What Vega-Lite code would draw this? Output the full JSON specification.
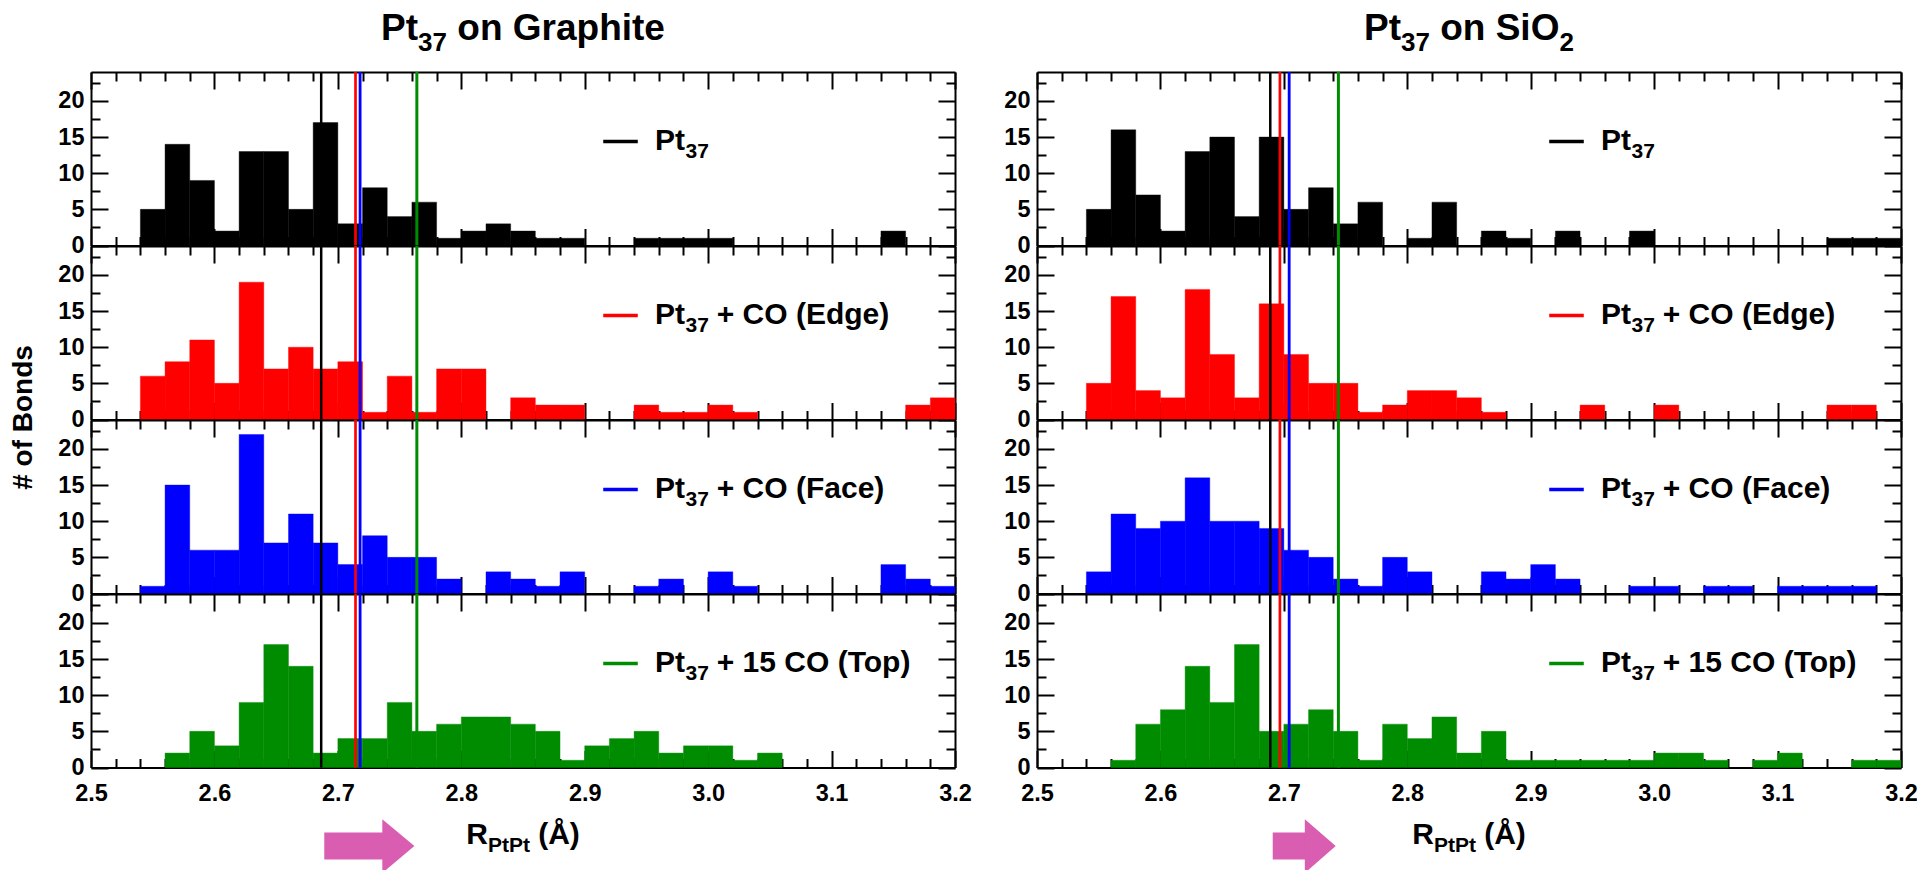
{
  "$schema": "https://vega.github.io/schema/vega-lite/v6.json",
  "background": "white",
  "padding": {"left": 9, "top": 10, "right": 5, "bottom": 0},
  "config": {
    "font": "Liberation Sans",
    "view": {"stroke": null},
    "axis": {
      "grid": false, "title": null, "zindex": 1,
      "domainColor": "#000000", "domainWidth": 2,
      "tickColor": "#000000", "tickWidth": 2,
      "labelColor": "#000000", "labelFont": "Liberation Sans", "labelFontWeight": "bold", "labelFontSize": 23.5,
      "labelFlush": false, "labelOverlap": false
    },
    "text": {"font": "Liberation Sans", "fontWeight": "bold", "color": "#000000"}
  },
  "datasets": {
    "hist": [
      {"support":"Graphite","system":"Pt37","lo":2.54,"hi":2.56,"count":5},
      {"support":"Graphite","system":"Pt37","lo":2.56,"hi":2.58,"count":14},
      {"support":"Graphite","system":"Pt37","lo":2.58,"hi":2.60,"count":9},
      {"support":"Graphite","system":"Pt37","lo":2.60,"hi":2.62,"count":2},
      {"support":"Graphite","system":"Pt37","lo":2.62,"hi":2.64,"count":13},
      {"support":"Graphite","system":"Pt37","lo":2.64,"hi":2.66,"count":13},
      {"support":"Graphite","system":"Pt37","lo":2.66,"hi":2.68,"count":5},
      {"support":"Graphite","system":"Pt37","lo":2.68,"hi":2.70,"count":17},
      {"support":"Graphite","system":"Pt37","lo":2.70,"hi":2.72,"count":3},
      {"support":"Graphite","system":"Pt37","lo":2.72,"hi":2.74,"count":8},
      {"support":"Graphite","system":"Pt37","lo":2.74,"hi":2.76,"count":4},
      {"support":"Graphite","system":"Pt37","lo":2.76,"hi":2.78,"count":6},
      {"support":"Graphite","system":"Pt37","lo":2.78,"hi":2.80,"count":1},
      {"support":"Graphite","system":"Pt37","lo":2.80,"hi":2.82,"count":2},
      {"support":"Graphite","system":"Pt37","lo":2.82,"hi":2.84,"count":3},
      {"support":"Graphite","system":"Pt37","lo":2.84,"hi":2.86,"count":2},
      {"support":"Graphite","system":"Pt37","lo":2.86,"hi":2.88,"count":1},
      {"support":"Graphite","system":"Pt37","lo":2.88,"hi":2.90,"count":1},
      {"support":"Graphite","system":"Pt37","lo":2.94,"hi":2.96,"count":1},
      {"support":"Graphite","system":"Pt37","lo":2.96,"hi":2.98,"count":1},
      {"support":"Graphite","system":"Pt37","lo":2.98,"hi":3.00,"count":1},
      {"support":"Graphite","system":"Pt37","lo":3.00,"hi":3.02,"count":1},
      {"support":"Graphite","system":"Pt37","lo":3.14,"hi":3.16,"count":2},

      {"support":"Graphite","system":"Edge","lo":2.54,"hi":2.56,"count":6},
      {"support":"Graphite","system":"Edge","lo":2.56,"hi":2.58,"count":8},
      {"support":"Graphite","system":"Edge","lo":2.58,"hi":2.60,"count":11},
      {"support":"Graphite","system":"Edge","lo":2.60,"hi":2.62,"count":5},
      {"support":"Graphite","system":"Edge","lo":2.62,"hi":2.64,"count":19},
      {"support":"Graphite","system":"Edge","lo":2.64,"hi":2.66,"count":7},
      {"support":"Graphite","system":"Edge","lo":2.66,"hi":2.68,"count":10},
      {"support":"Graphite","system":"Edge","lo":2.68,"hi":2.70,"count":7},
      {"support":"Graphite","system":"Edge","lo":2.70,"hi":2.72,"count":8},
      {"support":"Graphite","system":"Edge","lo":2.72,"hi":2.74,"count":1},
      {"support":"Graphite","system":"Edge","lo":2.74,"hi":2.76,"count":6},
      {"support":"Graphite","system":"Edge","lo":2.76,"hi":2.78,"count":1},
      {"support":"Graphite","system":"Edge","lo":2.78,"hi":2.80,"count":7},
      {"support":"Graphite","system":"Edge","lo":2.80,"hi":2.82,"count":7},
      {"support":"Graphite","system":"Edge","lo":2.84,"hi":2.86,"count":3},
      {"support":"Graphite","system":"Edge","lo":2.86,"hi":2.88,"count":2},
      {"support":"Graphite","system":"Edge","lo":2.88,"hi":2.90,"count":2},
      {"support":"Graphite","system":"Edge","lo":2.94,"hi":2.96,"count":2},
      {"support":"Graphite","system":"Edge","lo":2.96,"hi":2.98,"count":1},
      {"support":"Graphite","system":"Edge","lo":2.98,"hi":3.00,"count":1},
      {"support":"Graphite","system":"Edge","lo":3.00,"hi":3.02,"count":2},
      {"support":"Graphite","system":"Edge","lo":3.02,"hi":3.04,"count":1},
      {"support":"Graphite","system":"Edge","lo":3.16,"hi":3.18,"count":2},
      {"support":"Graphite","system":"Edge","lo":3.18,"hi":3.20,"count":3},

      {"support":"Graphite","system":"Face","lo":2.54,"hi":2.56,"count":1},
      {"support":"Graphite","system":"Face","lo":2.56,"hi":2.58,"count":15},
      {"support":"Graphite","system":"Face","lo":2.58,"hi":2.60,"count":6},
      {"support":"Graphite","system":"Face","lo":2.60,"hi":2.62,"count":6},
      {"support":"Graphite","system":"Face","lo":2.62,"hi":2.64,"count":22},
      {"support":"Graphite","system":"Face","lo":2.64,"hi":2.66,"count":7},
      {"support":"Graphite","system":"Face","lo":2.66,"hi":2.68,"count":11},
      {"support":"Graphite","system":"Face","lo":2.68,"hi":2.70,"count":7},
      {"support":"Graphite","system":"Face","lo":2.70,"hi":2.72,"count":4},
      {"support":"Graphite","system":"Face","lo":2.72,"hi":2.74,"count":8},
      {"support":"Graphite","system":"Face","lo":2.74,"hi":2.76,"count":5},
      {"support":"Graphite","system":"Face","lo":2.76,"hi":2.78,"count":5},
      {"support":"Graphite","system":"Face","lo":2.78,"hi":2.80,"count":2},
      {"support":"Graphite","system":"Face","lo":2.82,"hi":2.84,"count":3},
      {"support":"Graphite","system":"Face","lo":2.84,"hi":2.86,"count":2},
      {"support":"Graphite","system":"Face","lo":2.86,"hi":2.88,"count":1},
      {"support":"Graphite","system":"Face","lo":2.88,"hi":2.90,"count":3},
      {"support":"Graphite","system":"Face","lo":2.94,"hi":2.96,"count":1},
      {"support":"Graphite","system":"Face","lo":2.96,"hi":2.98,"count":2},
      {"support":"Graphite","system":"Face","lo":3.00,"hi":3.02,"count":3},
      {"support":"Graphite","system":"Face","lo":3.02,"hi":3.04,"count":1},
      {"support":"Graphite","system":"Face","lo":3.14,"hi":3.16,"count":4},
      {"support":"Graphite","system":"Face","lo":3.16,"hi":3.18,"count":2},
      {"support":"Graphite","system":"Face","lo":3.18,"hi":3.20,"count":1},

      {"support":"Graphite","system":"Top","lo":2.56,"hi":2.58,"count":2},
      {"support":"Graphite","system":"Top","lo":2.58,"hi":2.60,"count":5},
      {"support":"Graphite","system":"Top","lo":2.60,"hi":2.62,"count":3},
      {"support":"Graphite","system":"Top","lo":2.62,"hi":2.64,"count":9},
      {"support":"Graphite","system":"Top","lo":2.64,"hi":2.66,"count":17},
      {"support":"Graphite","system":"Top","lo":2.66,"hi":2.68,"count":14},
      {"support":"Graphite","system":"Top","lo":2.68,"hi":2.70,"count":2},
      {"support":"Graphite","system":"Top","lo":2.70,"hi":2.72,"count":4},
      {"support":"Graphite","system":"Top","lo":2.72,"hi":2.74,"count":4},
      {"support":"Graphite","system":"Top","lo":2.74,"hi":2.76,"count":9},
      {"support":"Graphite","system":"Top","lo":2.76,"hi":2.78,"count":5},
      {"support":"Graphite","system":"Top","lo":2.78,"hi":2.80,"count":6},
      {"support":"Graphite","system":"Top","lo":2.80,"hi":2.82,"count":7},
      {"support":"Graphite","system":"Top","lo":2.82,"hi":2.84,"count":7},
      {"support":"Graphite","system":"Top","lo":2.84,"hi":2.86,"count":6},
      {"support":"Graphite","system":"Top","lo":2.86,"hi":2.88,"count":5},
      {"support":"Graphite","system":"Top","lo":2.88,"hi":2.90,"count":1},
      {"support":"Graphite","system":"Top","lo":2.90,"hi":2.92,"count":3},
      {"support":"Graphite","system":"Top","lo":2.92,"hi":2.94,"count":4},
      {"support":"Graphite","system":"Top","lo":2.94,"hi":2.96,"count":5},
      {"support":"Graphite","system":"Top","lo":2.96,"hi":2.98,"count":2},
      {"support":"Graphite","system":"Top","lo":2.98,"hi":3.00,"count":3},
      {"support":"Graphite","system":"Top","lo":3.00,"hi":3.02,"count":3},
      {"support":"Graphite","system":"Top","lo":3.02,"hi":3.04,"count":1},
      {"support":"Graphite","system":"Top","lo":3.04,"hi":3.06,"count":2},

      {"support":"SiO2","system":"Pt37","lo":2.54,"hi":2.56,"count":5},
      {"support":"SiO2","system":"Pt37","lo":2.56,"hi":2.58,"count":16},
      {"support":"SiO2","system":"Pt37","lo":2.58,"hi":2.60,"count":7},
      {"support":"SiO2","system":"Pt37","lo":2.60,"hi":2.62,"count":2},
      {"support":"SiO2","system":"Pt37","lo":2.62,"hi":2.64,"count":13},
      {"support":"SiO2","system":"Pt37","lo":2.64,"hi":2.66,"count":15},
      {"support":"SiO2","system":"Pt37","lo":2.66,"hi":2.68,"count":4},
      {"support":"SiO2","system":"Pt37","lo":2.68,"hi":2.70,"count":15},
      {"support":"SiO2","system":"Pt37","lo":2.70,"hi":2.72,"count":5},
      {"support":"SiO2","system":"Pt37","lo":2.72,"hi":2.74,"count":8},
      {"support":"SiO2","system":"Pt37","lo":2.74,"hi":2.76,"count":3},
      {"support":"SiO2","system":"Pt37","lo":2.76,"hi":2.78,"count":6},
      {"support":"SiO2","system":"Pt37","lo":2.80,"hi":2.82,"count":1},
      {"support":"SiO2","system":"Pt37","lo":2.82,"hi":2.84,"count":6},
      {"support":"SiO2","system":"Pt37","lo":2.86,"hi":2.88,"count":2},
      {"support":"SiO2","system":"Pt37","lo":2.88,"hi":2.90,"count":1},
      {"support":"SiO2","system":"Pt37","lo":2.92,"hi":2.94,"count":2},
      {"support":"SiO2","system":"Pt37","lo":2.98,"hi":3.00,"count":2},
      {"support":"SiO2","system":"Pt37","lo":3.14,"hi":3.16,"count":1},
      {"support":"SiO2","system":"Pt37","lo":3.16,"hi":3.18,"count":1},
      {"support":"SiO2","system":"Pt37","lo":3.18,"hi":3.20,"count":1},

      {"support":"SiO2","system":"Edge","lo":2.54,"hi":2.56,"count":5},
      {"support":"SiO2","system":"Edge","lo":2.56,"hi":2.58,"count":17},
      {"support":"SiO2","system":"Edge","lo":2.58,"hi":2.60,"count":4},
      {"support":"SiO2","system":"Edge","lo":2.60,"hi":2.62,"count":3},
      {"support":"SiO2","system":"Edge","lo":2.62,"hi":2.64,"count":18},
      {"support":"SiO2","system":"Edge","lo":2.64,"hi":2.66,"count":9},
      {"support":"SiO2","system":"Edge","lo":2.66,"hi":2.68,"count":3},
      {"support":"SiO2","system":"Edge","lo":2.68,"hi":2.70,"count":16},
      {"support":"SiO2","system":"Edge","lo":2.70,"hi":2.72,"count":9},
      {"support":"SiO2","system":"Edge","lo":2.72,"hi":2.74,"count":5},
      {"support":"SiO2","system":"Edge","lo":2.74,"hi":2.76,"count":5},
      {"support":"SiO2","system":"Edge","lo":2.76,"hi":2.78,"count":1},
      {"support":"SiO2","system":"Edge","lo":2.78,"hi":2.80,"count":2},
      {"support":"SiO2","system":"Edge","lo":2.80,"hi":2.82,"count":4},
      {"support":"SiO2","system":"Edge","lo":2.82,"hi":2.84,"count":4},
      {"support":"SiO2","system":"Edge","lo":2.84,"hi":2.86,"count":3},
      {"support":"SiO2","system":"Edge","lo":2.86,"hi":2.88,"count":1},
      {"support":"SiO2","system":"Edge","lo":2.94,"hi":2.96,"count":2},
      {"support":"SiO2","system":"Edge","lo":3.00,"hi":3.02,"count":2},
      {"support":"SiO2","system":"Edge","lo":3.14,"hi":3.16,"count":2},
      {"support":"SiO2","system":"Edge","lo":3.16,"hi":3.18,"count":2},

      {"support":"SiO2","system":"Face","lo":2.54,"hi":2.56,"count":3},
      {"support":"SiO2","system":"Face","lo":2.56,"hi":2.58,"count":11},
      {"support":"SiO2","system":"Face","lo":2.58,"hi":2.60,"count":9},
      {"support":"SiO2","system":"Face","lo":2.60,"hi":2.62,"count":10},
      {"support":"SiO2","system":"Face","lo":2.62,"hi":2.64,"count":16},
      {"support":"SiO2","system":"Face","lo":2.64,"hi":2.66,"count":10},
      {"support":"SiO2","system":"Face","lo":2.66,"hi":2.68,"count":10},
      {"support":"SiO2","system":"Face","lo":2.68,"hi":2.70,"count":9},
      {"support":"SiO2","system":"Face","lo":2.70,"hi":2.72,"count":6},
      {"support":"SiO2","system":"Face","lo":2.72,"hi":2.74,"count":5},
      {"support":"SiO2","system":"Face","lo":2.74,"hi":2.76,"count":2},
      {"support":"SiO2","system":"Face","lo":2.76,"hi":2.78,"count":1},
      {"support":"SiO2","system":"Face","lo":2.78,"hi":2.80,"count":5},
      {"support":"SiO2","system":"Face","lo":2.80,"hi":2.82,"count":3},
      {"support":"SiO2","system":"Face","lo":2.86,"hi":2.88,"count":3},
      {"support":"SiO2","system":"Face","lo":2.88,"hi":2.90,"count":2},
      {"support":"SiO2","system":"Face","lo":2.90,"hi":2.92,"count":4},
      {"support":"SiO2","system":"Face","lo":2.92,"hi":2.94,"count":2},
      {"support":"SiO2","system":"Face","lo":2.98,"hi":3.00,"count":1},
      {"support":"SiO2","system":"Face","lo":3.00,"hi":3.02,"count":1},
      {"support":"SiO2","system":"Face","lo":3.04,"hi":3.06,"count":1},
      {"support":"SiO2","system":"Face","lo":3.06,"hi":3.08,"count":1},
      {"support":"SiO2","system":"Face","lo":3.10,"hi":3.12,"count":1},
      {"support":"SiO2","system":"Face","lo":3.12,"hi":3.14,"count":1},
      {"support":"SiO2","system":"Face","lo":3.14,"hi":3.16,"count":1},
      {"support":"SiO2","system":"Face","lo":3.16,"hi":3.18,"count":1},

      {"support":"SiO2","system":"Top","lo":2.56,"hi":2.58,"count":1},
      {"support":"SiO2","system":"Top","lo":2.58,"hi":2.60,"count":6},
      {"support":"SiO2","system":"Top","lo":2.60,"hi":2.62,"count":8},
      {"support":"SiO2","system":"Top","lo":2.62,"hi":2.64,"count":14},
      {"support":"SiO2","system":"Top","lo":2.64,"hi":2.66,"count":9},
      {"support":"SiO2","system":"Top","lo":2.66,"hi":2.68,"count":17},
      {"support":"SiO2","system":"Top","lo":2.68,"hi":2.70,"count":5},
      {"support":"SiO2","system":"Top","lo":2.70,"hi":2.72,"count":6},
      {"support":"SiO2","system":"Top","lo":2.72,"hi":2.74,"count":8},
      {"support":"SiO2","system":"Top","lo":2.74,"hi":2.76,"count":5},
      {"support":"SiO2","system":"Top","lo":2.76,"hi":2.78,"count":1},
      {"support":"SiO2","system":"Top","lo":2.78,"hi":2.80,"count":6},
      {"support":"SiO2","system":"Top","lo":2.80,"hi":2.82,"count":4},
      {"support":"SiO2","system":"Top","lo":2.82,"hi":2.84,"count":7},
      {"support":"SiO2","system":"Top","lo":2.84,"hi":2.86,"count":2},
      {"support":"SiO2","system":"Top","lo":2.86,"hi":2.88,"count":5},
      {"support":"SiO2","system":"Top","lo":2.88,"hi":2.90,"count":1},
      {"support":"SiO2","system":"Top","lo":2.90,"hi":2.92,"count":1},
      {"support":"SiO2","system":"Top","lo":2.92,"hi":2.94,"count":1},
      {"support":"SiO2","system":"Top","lo":2.94,"hi":2.96,"count":1},
      {"support":"SiO2","system":"Top","lo":2.96,"hi":2.98,"count":1},
      {"support":"SiO2","system":"Top","lo":2.98,"hi":3.00,"count":1},
      {"support":"SiO2","system":"Top","lo":3.00,"hi":3.02,"count":2},
      {"support":"SiO2","system":"Top","lo":3.02,"hi":3.04,"count":2},
      {"support":"SiO2","system":"Top","lo":3.04,"hi":3.06,"count":1},
      {"support":"SiO2","system":"Top","lo":3.08,"hi":3.10,"count":1},
      {"support":"SiO2","system":"Top","lo":3.10,"hi":3.12,"count":2},
      {"support":"SiO2","system":"Top","lo":3.16,"hi":3.18,"count":1},
      {"support":"SiO2","system":"Top","lo":3.18,"hi":3.20,"count":1}
    ],
    "means": [
      {"support":"Graphite","system":"Pt37","mean":2.6865},
      {"support":"Graphite","system":"Edge","mean":2.7143},
      {"support":"Graphite","system":"Face","mean":2.7180},
      {"support":"Graphite","system":"Top","mean":2.7640},
      {"support":"SiO2","system":"Pt37","mean":2.6890},
      {"support":"SiO2","system":"Edge","mean":2.6968},
      {"support":"SiO2","system":"Face","mean":2.7043},
      {"support":"SiO2","system":"Top","mean":2.7442}
    ],
    "series": [
      {"system":"Pt37","base":"Pt","sub":"37","rest":""},
      {"system":"Edge","base":"Pt","sub":"37","rest":"+ CO (Edge)"},
      {"system":"Face","base":"Pt","sub":"37","rest":"+ CO (Face)"},
      {"system":"Top","base":"Pt","sub":"37","rest":"+ 15 CO (Top)"}
    ],
    "supports": [
      {"support":"Graphite","base":"Pt","sub":"37","rest":"on Graphite","sub2":""},
      {"support":"SiO2","base":"Pt","sub":"37","rest":"on SiO","sub2":"2"}
    ],
    "shift": [
      {"support":"Graphite","part":"shaft","r":2.689,"lo":-0.5,"hi":0.5},
      {"support":"Graphite","part":"shaft","r":2.737,"lo":-0.5,"hi":0.5},
      {"support":"Graphite","part":"head","r":2.736,"lo":-1,"hi":1},
      {"support":"Graphite","part":"head","r":2.762,"lo":0,"hi":0},
      {"support":"SiO2","part":"shaft","r":2.691,"lo":-0.5,"hi":0.5},
      {"support":"SiO2","part":"shaft","r":2.718,"lo":-0.5,"hi":0.5},
      {"support":"SiO2","part":"head","r":2.717,"lo":-1,"hi":1},
      {"support":"SiO2","part":"head","r":2.742,"lo":0,"hi":0}
    ],
    "xtitle": [
      {"base":"R","sub":"PtPt","unit":"(Å)"}
    ]
  },
  "columns": 2,
  "spacing": {"row": 0, "column": 82},
  "bounds": "flush",
  "align": "each",
  "concat": [
    {
      "width": 864, "height": 173.5,
      "layer": [
        {"data": {"name": "hist"}, "transform": [{"filter": "datum.support === 'Graphite' && datum.system === 'Pt37'"}],
         "mark": {"type": "bar", "color": "#000000", "stroke": "#000000", "strokeWidth": 0.4},
         "encoding": {
           "x": {"field": "lo", "type": "quantitative", "scale": {"domain": [2.5, 3.2], "nice": false, "zero": false}, "axis": {"orient": "bottom", "ticks": false, "labels": false, "domain": true}},
           "x2": {"field": "hi"},
           "y": {"field": "count", "type": "quantitative", "scale": {"domain": [0, 24], "nice": false}, "axis": {"orient": "left", "values": [0,5,10,15,20], "ticks": false, "labelPadding": 7, "domain": true}},
           "y2": {"datum": 0}}},
        {"data": {"name": "means"}, "transform": [{"filter": "datum.support === 'Graphite'"}],
         "mark": "rule",
         "encoding": {
           "x": {"field": "mean", "type": "quantitative", "axis": {"orient": "bottom", "values": [2.5,2.6,2.7,2.8,2.9,3.0,3.1,3.2], "offset": -17, "tickSize": 17, "labels": false, "domain": false}},
           "color": {"field": "system", "type": "nominal", "scale": {"domain": ["Pt37","Edge","Face","Top"], "range": ["#000000","#ff0000","#0000ff","#008c00"]}, "legend": null},
           "strokeWidth": {"field": "system", "type": "ordinal", "scale": {"domain": ["Pt37","Edge","Face","Top"], "range": [2.5,3,3,2]}, "legend": null}}},
        {"data": {"name": "series"}, "transform": [{"filter": "datum.system === 'Pt37'"}],
         "mark": {"type": "rule", "strokeWidth": 3.5},
         "encoding": {
           "x": {"datum": 2.915, "axis": {"orient": "bottom", "values": [2.52,2.54,2.56,2.58,2.62,2.64,2.66,2.68,2.72,2.74,2.76,2.78,2.82,2.84,2.86,2.88,2.92,2.94,2.96,2.98,3.02,3.04,3.06,3.08,3.12,3.14,3.16,3.18], "offset": -9, "tickSize": 9, "labels": false, "domain": false}},
           "x2": {"datum": 2.943},
           "y": {"datum": 14.4, "axis": {"orient": "left", "values": [0,5,10,15,20], "offset": -17, "tickSize": 17, "labels": false, "domain": false}},
           "color": {"field": "system", "type": "nominal", "scale": {"domain": ["Pt37","Edge","Face","Top"], "range": ["#000000","#ff0000","#0000ff","#008c00"]}, "legend": null}}},
        {"data": {"name": "series"}, "transform": [{"filter": "datum.system === 'Pt37'"}],
         "mark": {"type": "text", "align": "left", "baseline": "alphabetic", "fontSize": 30, "dy": 9},
         "encoding": {
           "x": {"datum": 2.957, "axis": {"orient": "top", "values": [2.5,2.6,2.7,2.8,2.9,3.0,3.1,3.2], "offset": -17, "tickSize": 17, "labels": false, "domain": false}},
           "y": {"datum": 14.4, "axis": {"orient": "left", "values": [2.5,7.5,12.5,17.5,22.5], "offset": -9, "tickSize": 9, "labels": false, "domain": false}},
           "text": {"field": "base"}}},
        {"data": {"name": "series"}, "transform": [{"filter": "datum.system === 'Pt37'"}],
         "mark": {"type": "text", "align": "left", "baseline": "alphabetic", "fontSize": 21, "dx": 30.5, "dy": 17},
         "encoding": {
           "x": {"datum": 2.957, "axis": {"orient": "top", "values": [2.52,2.54,2.56,2.58,2.62,2.64,2.66,2.68,2.72,2.74,2.76,2.78,2.82,2.84,2.86,2.88,2.92,2.94,2.96,2.98,3.02,3.04,3.06,3.08,3.12,3.14,3.16,3.18], "offset": -9, "tickSize": 9, "labels": false, "domain": false}},
           "y": {"datum": 14.4, "axis": {"orient": "right", "values": [0,5,10,15,20], "offset": -17, "tickSize": 17, "labels": false, "domain": false}},
           "text": {"field": "sub"}}},
        {"data": {"name": "series"}, "transform": [{"filter": "datum.system === 'Pt37'"}],
         "mark": {"type": "text", "align": "left", "baseline": "alphabetic", "fontSize": 30, "dx": 61.7, "dy": 9},
         "encoding": {
           "x": {"datum": 2.957, "axis": {"orient": "top", "ticks": false, "labels": false, "domain": true}},
           "y": {"datum": 14.4, "axis": {"orient": "right", "values": [2.5,7.5,12.5,17.5,22.5], "offset": -9, "tickSize": 9, "labels": false, "domain": false}},
           "text": {"field": "rest"}}},
        {"data": {"name": "supports"}, "transform": [{"filter": "datum.support === 'Graphite'"}],
         "mark": {"type": "text", "align": "left", "baseline": "alphabetic", "fontSize": 37, "dx": -141.9, "dy": -31.7},
         "encoding": {"x": {"datum": 2.85, "axis": null}, "y": {"datum": 24, "axis": {"orient": "right", "ticks": false, "labels": false, "domain": true}}, "text": {"field": "base"}}},
        {"data": {"name": "supports"}, "transform": [{"filter": "datum.support === 'Graphite'"}],
         "mark": {"type": "text", "align": "left", "baseline": "alphabetic", "fontSize": 26, "dx": -104.9, "dy": -20.7},
         "encoding": {"x": {"datum": 2.85, "axis": null}, "y": {"datum": 24, "axis": null}, "text": {"field": "sub"}}},
        {"data": {"name": "supports"}, "transform": [{"filter": "datum.support === 'Graphite'"}],
         "mark": {"type": "text", "align": "left", "baseline": "alphabetic", "fontSize": 37, "dx": -65.7, "dy": -31.7},
         "encoding": {"x": {"datum": 2.85, "axis": null}, "y": {"datum": 24, "axis": null}, "text": {"field": "rest"}}}
      ],
      "resolve": {"axis": {"x": "independent", "y": "independent"}}
    },
    {
      "width": 864, "height": 173.5,
      "layer": [
        {"data": {"name": "hist"}, "transform": [{"filter": "datum.support === 'SiO2' && datum.system === 'Pt37'"}],
         "mark": {"type": "bar", "color": "#000000", "stroke": "#000000", "strokeWidth": 0.4},
         "encoding": {
           "x": {"field": "lo", "type": "quantitative", "scale": {"domain": [2.5, 3.2], "nice": false, "zero": false}, "axis": {"orient": "bottom", "ticks": false, "labels": false, "domain": true}},
           "x2": {"field": "hi"},
           "y": {"field": "count", "type": "quantitative", "scale": {"domain": [0, 24], "nice": false}, "axis": {"orient": "left", "values": [0,5,10,15,20], "ticks": false, "labelPadding": 7, "domain": true}},
           "y2": {"datum": 0}}},
        {"data": {"name": "means"}, "transform": [{"filter": "datum.support === 'SiO2'"}],
         "mark": "rule",
         "encoding": {
           "x": {"field": "mean", "type": "quantitative", "axis": {"orient": "bottom", "values": [2.5,2.6,2.7,2.8,2.9,3.0,3.1,3.2], "offset": -17, "tickSize": 17, "labels": false, "domain": false}},
           "color": {"field": "system", "type": "nominal", "scale": {"domain": ["Pt37","Edge","Face","Top"], "range": ["#000000","#ff0000","#0000ff","#008c00"]}, "legend": null},
           "strokeWidth": {"field": "system", "type": "ordinal", "scale": {"domain": ["Pt37","Edge","Face","Top"], "range": [2.5,3,3,2]}, "legend": null}}},
        {"data": {"name": "series"}, "transform": [{"filter": "datum.system === 'Pt37'"}],
         "mark": {"type": "rule", "strokeWidth": 3.5},
         "encoding": {
           "x": {"datum": 2.915, "axis": {"orient": "bottom", "values": [2.52,2.54,2.56,2.58,2.62,2.64,2.66,2.68,2.72,2.74,2.76,2.78,2.82,2.84,2.86,2.88,2.92,2.94,2.96,2.98,3.02,3.04,3.06,3.08,3.12,3.14,3.16,3.18], "offset": -9, "tickSize": 9, "labels": false, "domain": false}},
           "x2": {"datum": 2.943},
           "y": {"datum": 14.4, "axis": {"orient": "left", "values": [0,5,10,15,20], "offset": -17, "tickSize": 17, "labels": false, "domain": false}},
           "color": {"field": "system", "type": "nominal", "scale": {"domain": ["Pt37","Edge","Face","Top"], "range": ["#000000","#ff0000","#0000ff","#008c00"]}, "legend": null}}},
        {"data": {"name": "series"}, "transform": [{"filter": "datum.system === 'Pt37'"}],
         "mark": {"type": "text", "align": "left", "baseline": "alphabetic", "fontSize": 30, "dy": 9},
         "encoding": {
           "x": {"datum": 2.957, "axis": {"orient": "top", "values": [2.5,2.6,2.7,2.8,2.9,3.0,3.1,3.2], "offset": -17, "tickSize": 17, "labels": false, "domain": false}},
           "y": {"datum": 14.4, "axis": {"orient": "left", "values": [2.5,7.5,12.5,17.5,22.5], "offset": -9, "tickSize": 9, "labels": false, "domain": false}},
           "text": {"field": "base"}}},
        {"data": {"name": "series"}, "transform": [{"filter": "datum.system === 'Pt37'"}],
         "mark": {"type": "text", "align": "left", "baseline": "alphabetic", "fontSize": 21, "dx": 30.5, "dy": 17},
         "encoding": {
           "x": {"datum": 2.957, "axis": {"orient": "top", "values": [2.52,2.54,2.56,2.58,2.62,2.64,2.66,2.68,2.72,2.74,2.76,2.78,2.82,2.84,2.86,2.88,2.92,2.94,2.96,2.98,3.02,3.04,3.06,3.08,3.12,3.14,3.16,3.18], "offset": -9, "tickSize": 9, "labels": false, "domain": false}},
           "y": {"datum": 14.4, "axis": {"orient": "right", "values": [0,5,10,15,20], "offset": -17, "tickSize": 17, "labels": false, "domain": false}},
           "text": {"field": "sub"}}},
        {"data": {"name": "series"}, "transform": [{"filter": "datum.system === 'Pt37'"}],
         "mark": {"type": "text", "align": "left", "baseline": "alphabetic", "fontSize": 30, "dx": 61.7, "dy": 9},
         "encoding": {
           "x": {"datum": 2.957, "axis": {"orient": "top", "ticks": false, "labels": false, "domain": true}},
           "y": {"datum": 14.4, "axis": {"orient": "right", "values": [2.5,7.5,12.5,17.5,22.5], "offset": -9, "tickSize": 9, "labels": false, "domain": false}},
           "text": {"field": "rest"}}},
        {"data": {"name": "supports"}, "transform": [{"filter": "datum.support === 'SiO2'"}],
         "mark": {"type": "text", "align": "left", "baseline": "alphabetic", "fontSize": 37, "dx": -105, "dy": -31.7},
         "encoding": {"x": {"datum": 2.85, "axis": null}, "y": {"datum": 24, "axis": {"orient": "right", "ticks": false, "labels": false, "domain": true}}, "text": {"field": "base"}}},
        {"data": {"name": "supports"}, "transform": [{"filter": "datum.support === 'SiO2'"}],
         "mark": {"type": "text", "align": "left", "baseline": "alphabetic", "fontSize": 26, "dx": -68, "dy": -20.7},
         "encoding": {"x": {"datum": 2.85, "axis": null}, "y": {"datum": 24, "axis": null}, "text": {"field": "sub"}}},
        {"data": {"name": "supports"}, "transform": [{"filter": "datum.support === 'SiO2'"}],
         "mark": {"type": "text", "align": "left", "baseline": "alphabetic", "fontSize": 37, "dx": -28.8, "dy": -31.7},
         "encoding": {"x": {"datum": 2.85, "axis": null}, "y": {"datum": 24, "axis": null}, "text": {"field": "rest"}}},
        {"data": {"name": "supports"}, "transform": [{"filter": "datum.support === 'SiO2'"}],
         "mark": {"type": "text", "align": "left", "baseline": "alphabetic", "fontSize": 26, "dx": 90.5, "dy": -20.7},
         "encoding": {"x": {"datum": 2.85, "axis": null}, "y": {"datum": 24, "axis": null}, "text": {"field": "sub2"}}}
      ],
      "resolve": {"axis": {"x": "independent", "y": "independent"}}
    },
    {
      "width": 864, "height": 173.5,
      "layer": [
        {"data": {"name": "hist"}, "transform": [{"filter": "datum.support === 'Graphite' && datum.system === 'Edge'"}],
         "mark": {"type": "bar", "color": "#ff0000", "stroke": "#ff0000", "strokeWidth": 0.4},
         "encoding": {
           "x": {"field": "lo", "type": "quantitative", "scale": {"domain": [2.5, 3.2], "nice": false, "zero": false}, "axis": {"orient": "bottom", "ticks": false, "labels": false, "domain": true}},
           "x2": {"field": "hi"},
           "y": {"field": "count", "type": "quantitative", "scale": {"domain": [0, 24], "nice": false}, "axis": {"orient": "left", "values": [0,5,10,15,20], "ticks": false, "labelPadding": 7, "domain": true}},
           "y2": {"datum": 0}}},
        {"data": {"name": "means"}, "transform": [{"filter": "datum.support === 'Graphite'"}],
         "mark": "rule",
         "encoding": {
           "x": {"field": "mean", "type": "quantitative", "axis": {"orient": "bottom", "values": [2.5,2.6,2.7,2.8,2.9,3.0,3.1,3.2], "offset": -17, "tickSize": 17, "labels": false, "domain": false}},
           "color": {"field": "system", "type": "nominal", "scale": {"domain": ["Pt37","Edge","Face","Top"], "range": ["#000000","#ff0000","#0000ff","#008c00"]}, "legend": null},
           "strokeWidth": {"field": "system", "type": "ordinal", "scale": {"domain": ["Pt37","Edge","Face","Top"], "range": [2.5,3,3,2]}, "legend": null}}},
        {"data": {"name": "series"}, "transform": [{"filter": "datum.system === 'Edge'"}],
         "mark": {"type": "rule", "strokeWidth": 3.5},
         "encoding": {
           "x": {"datum": 2.915, "axis": {"orient": "bottom", "values": [2.52,2.54,2.56,2.58,2.62,2.64,2.66,2.68,2.72,2.74,2.76,2.78,2.82,2.84,2.86,2.88,2.92,2.94,2.96,2.98,3.02,3.04,3.06,3.08,3.12,3.14,3.16,3.18], "offset": -9, "tickSize": 9, "labels": false, "domain": false}},
           "x2": {"datum": 2.943},
           "y": {"datum": 14.4, "axis": {"orient": "left", "values": [0,5,10,15,20], "offset": -17, "tickSize": 17, "labels": false, "domain": false}},
           "color": {"field": "system", "type": "nominal", "scale": {"domain": ["Pt37","Edge","Face","Top"], "range": ["#000000","#ff0000","#0000ff","#008c00"]}, "legend": null}}},
        {"data": {"name": "series"}, "transform": [{"filter": "datum.system === 'Edge'"}],
         "mark": {"type": "text", "align": "left", "baseline": "alphabetic", "fontSize": 30, "dy": 9},
         "encoding": {
           "x": {"datum": 2.957, "axis": {"orient": "top", "values": [2.5,2.6,2.7,2.8,2.9,3.0,3.1,3.2], "offset": -17, "tickSize": 17, "labels": false, "domain": false}},
           "y": {"datum": 14.4, "axis": {"orient": "left", "values": [2.5,7.5,12.5,17.5,22.5], "offset": -9, "tickSize": 9, "labels": false, "domain": false}},
           "text": {"field": "base"}}},
        {"data": {"name": "series"}, "transform": [{"filter": "datum.system === 'Edge'"}],
         "mark": {"type": "text", "align": "left", "baseline": "alphabetic", "fontSize": 21, "dx": 30.5, "dy": 17},
         "encoding": {
           "x": {"datum": 2.957, "axis": {"orient": "top", "values": [2.52,2.54,2.56,2.58,2.62,2.64,2.66,2.68,2.72,2.74,2.76,2.78,2.82,2.84,2.86,2.88,2.92,2.94,2.96,2.98,3.02,3.04,3.06,3.08,3.12,3.14,3.16,3.18], "offset": -9, "tickSize": 9, "labels": false, "domain": false}},
           "y": {"datum": 14.4, "axis": {"orient": "right", "values": [0,5,10,15,20], "offset": -17, "tickSize": 17, "labels": false, "domain": false}},
           "text": {"field": "sub"}}},
        {"data": {"name": "series"}, "transform": [{"filter": "datum.system === 'Edge'"}],
         "mark": {"type": "text", "align": "left", "baseline": "alphabetic", "fontSize": 30, "dx": 61.7, "dy": 9},
         "encoding": {
           "x": {"datum": 2.957, "axis": {"orient": "top", "ticks": false, "labels": false, "domain": true}},
           "y": {"datum": 14.4, "axis": {"orient": "right", "values": [2.5,7.5,12.5,17.5,22.5], "offset": -9, "tickSize": 9, "labels": false, "domain": false}},
           "text": {"field": "rest"}}},
        {"data": {"values": [{"label": "# of Bonds"}]},
         "mark": {"type": "text", "angle": 270, "align": "center", "baseline": "middle", "fontSize": 28, "dx": 2, "dy": -67},
         "encoding": {"x": {"datum": 2.5, "axis": null}, "y": {"datum": 0, "axis": {"orient": "right", "ticks": false, "labels": false, "domain": true}}, "text": {"field": "label"}}}
      ],
      "resolve": {"axis": {"x": "independent", "y": "independent"}}
    },
    {
      "width": 864, "height": 173.5,
      "layer": [
        {"data": {"name": "hist"}, "transform": [{"filter": "datum.support === 'SiO2' && datum.system === 'Edge'"}],
         "mark": {"type": "bar", "color": "#ff0000", "stroke": "#ff0000", "strokeWidth": 0.4},
         "encoding": {
           "x": {"field": "lo", "type": "quantitative", "scale": {"domain": [2.5, 3.2], "nice": false, "zero": false}, "axis": {"orient": "bottom", "ticks": false, "labels": false, "domain": true}},
           "x2": {"field": "hi"},
           "y": {"field": "count", "type": "quantitative", "scale": {"domain": [0, 24], "nice": false}, "axis": {"orient": "left", "values": [0,5,10,15,20], "ticks": false, "labelPadding": 7, "domain": true}},
           "y2": {"datum": 0}}},
        {"data": {"name": "means"}, "transform": [{"filter": "datum.support === 'SiO2'"}],
         "mark": "rule",
         "encoding": {
           "x": {"field": "mean", "type": "quantitative", "axis": {"orient": "bottom", "values": [2.5,2.6,2.7,2.8,2.9,3.0,3.1,3.2], "offset": -17, "tickSize": 17, "labels": false, "domain": false}},
           "color": {"field": "system", "type": "nominal", "scale": {"domain": ["Pt37","Edge","Face","Top"], "range": ["#000000","#ff0000","#0000ff","#008c00"]}, "legend": null},
           "strokeWidth": {"field": "system", "type": "ordinal", "scale": {"domain": ["Pt37","Edge","Face","Top"], "range": [2.5,3,3,2]}, "legend": null}}},
        {"data": {"name": "series"}, "transform": [{"filter": "datum.system === 'Edge'"}],
         "mark": {"type": "rule", "strokeWidth": 3.5},
         "encoding": {
           "x": {"datum": 2.915, "axis": {"orient": "bottom", "values": [2.52,2.54,2.56,2.58,2.62,2.64,2.66,2.68,2.72,2.74,2.76,2.78,2.82,2.84,2.86,2.88,2.92,2.94,2.96,2.98,3.02,3.04,3.06,3.08,3.12,3.14,3.16,3.18], "offset": -9, "tickSize": 9, "labels": false, "domain": false}},
           "x2": {"datum": 2.943},
           "y": {"datum": 14.4, "axis": {"orient": "left", "values": [0,5,10,15,20], "offset": -17, "tickSize": 17, "labels": false, "domain": false}},
           "color": {"field": "system", "type": "nominal", "scale": {"domain": ["Pt37","Edge","Face","Top"], "range": ["#000000","#ff0000","#0000ff","#008c00"]}, "legend": null}}},
        {"data": {"name": "series"}, "transform": [{"filter": "datum.system === 'Edge'"}],
         "mark": {"type": "text", "align": "left", "baseline": "alphabetic", "fontSize": 30, "dy": 9},
         "encoding": {
           "x": {"datum": 2.957, "axis": {"orient": "top", "values": [2.5,2.6,2.7,2.8,2.9,3.0,3.1,3.2], "offset": -17, "tickSize": 17, "labels": false, "domain": false}},
           "y": {"datum": 14.4, "axis": {"orient": "left", "values": [2.5,7.5,12.5,17.5,22.5], "offset": -9, "tickSize": 9, "labels": false, "domain": false}},
           "text": {"field": "base"}}},
        {"data": {"name": "series"}, "transform": [{"filter": "datum.system === 'Edge'"}],
         "mark": {"type": "text", "align": "left", "baseline": "alphabetic", "fontSize": 21, "dx": 30.5, "dy": 17},
         "encoding": {
           "x": {"datum": 2.957, "axis": {"orient": "top", "values": [2.52,2.54,2.56,2.58,2.62,2.64,2.66,2.68,2.72,2.74,2.76,2.78,2.82,2.84,2.86,2.88,2.92,2.94,2.96,2.98,3.02,3.04,3.06,3.08,3.12,3.14,3.16,3.18], "offset": -9, "tickSize": 9, "labels": false, "domain": false}},
           "y": {"datum": 14.4, "axis": {"orient": "right", "values": [0,5,10,15,20], "offset": -17, "tickSize": 17, "labels": false, "domain": false}},
           "text": {"field": "sub"}}},
        {"data": {"name": "series"}, "transform": [{"filter": "datum.system === 'Edge'"}],
         "mark": {"type": "text", "align": "left", "baseline": "alphabetic", "fontSize": 30, "dx": 61.7, "dy": 9},
         "encoding": {
           "x": {"datum": 2.957, "axis": {"orient": "top", "ticks": false, "labels": false, "domain": true}},
           "y": {"datum": 14.4, "axis": {"orient": "right", "values": [2.5,7.5,12.5,17.5,22.5], "offset": -9, "tickSize": 9, "labels": false, "domain": false}},
           "text": {"field": "rest"}}},
        {"data": {"name": "series"}, "transform": [{"filter": "datum.system === 'Edge'"}],
         "mark": {"type": "text", "opacity": 0},
         "encoding": {
           "x": {"datum": 2.957, "axis": null},
           "y": {"datum": 14.4, "axis": {"orient": "right", "ticks": false, "labels": false, "domain": true}},
           "text": {"field": "rest"}}}
      ],
      "resolve": {"axis": {"x": "independent", "y": "independent"}}
    },
    {
      "width": 864, "height": 173.5,
      "layer": [
        {"data": {"name": "hist"}, "transform": [{"filter": "datum.support === 'Graphite' && datum.system === 'Face'"}],
         "mark": {"type": "bar", "color": "#0000ff", "stroke": "#0000ff", "strokeWidth": 0.4},
         "encoding": {
           "x": {"field": "lo", "type": "quantitative", "scale": {"domain": [2.5, 3.2], "nice": false, "zero": false}, "axis": {"orient": "bottom", "ticks": false, "labels": false, "domain": true}},
           "x2": {"field": "hi"},
           "y": {"field": "count", "type": "quantitative", "scale": {"domain": [0, 24], "nice": false}, "axis": {"orient": "left", "values": [0,5,10,15,20], "ticks": false, "labelPadding": 7, "domain": true}},
           "y2": {"datum": 0}}},
        {"data": {"name": "means"}, "transform": [{"filter": "datum.support === 'Graphite'"}],
         "mark": "rule",
         "encoding": {
           "x": {"field": "mean", "type": "quantitative", "axis": {"orient": "bottom", "values": [2.5,2.6,2.7,2.8,2.9,3.0,3.1,3.2], "offset": -17, "tickSize": 17, "labels": false, "domain": false}},
           "color": {"field": "system", "type": "nominal", "scale": {"domain": ["Pt37","Edge","Face","Top"], "range": ["#000000","#ff0000","#0000ff","#008c00"]}, "legend": null},
           "strokeWidth": {"field": "system", "type": "ordinal", "scale": {"domain": ["Pt37","Edge","Face","Top"], "range": [2.5,3,3,2]}, "legend": null}}},
        {"data": {"name": "series"}, "transform": [{"filter": "datum.system === 'Face'"}],
         "mark": {"type": "rule", "strokeWidth": 3.5},
         "encoding": {
           "x": {"datum": 2.915, "axis": {"orient": "bottom", "values": [2.52,2.54,2.56,2.58,2.62,2.64,2.66,2.68,2.72,2.74,2.76,2.78,2.82,2.84,2.86,2.88,2.92,2.94,2.96,2.98,3.02,3.04,3.06,3.08,3.12,3.14,3.16,3.18], "offset": -9, "tickSize": 9, "labels": false, "domain": false}},
           "x2": {"datum": 2.943},
           "y": {"datum": 14.4, "axis": {"orient": "left", "values": [0,5,10,15,20], "offset": -17, "tickSize": 17, "labels": false, "domain": false}},
           "color": {"field": "system", "type": "nominal", "scale": {"domain": ["Pt37","Edge","Face","Top"], "range": ["#000000","#ff0000","#0000ff","#008c00"]}, "legend": null}}},
        {"data": {"name": "series"}, "transform": [{"filter": "datum.system === 'Face'"}],
         "mark": {"type": "text", "align": "left", "baseline": "alphabetic", "fontSize": 30, "dy": 9},
         "encoding": {
           "x": {"datum": 2.957, "axis": {"orient": "top", "values": [2.5,2.6,2.7,2.8,2.9,3.0,3.1,3.2], "offset": -17, "tickSize": 17, "labels": false, "domain": false}},
           "y": {"datum": 14.4, "axis": {"orient": "left", "values": [2.5,7.5,12.5,17.5,22.5], "offset": -9, "tickSize": 9, "labels": false, "domain": false}},
           "text": {"field": "base"}}},
        {"data": {"name": "series"}, "transform": [{"filter": "datum.system === 'Face'"}],
         "mark": {"type": "text", "align": "left", "baseline": "alphabetic", "fontSize": 21, "dx": 30.5, "dy": 17},
         "encoding": {
           "x": {"datum": 2.957, "axis": {"orient": "top", "values": [2.52,2.54,2.56,2.58,2.62,2.64,2.66,2.68,2.72,2.74,2.76,2.78,2.82,2.84,2.86,2.88,2.92,2.94,2.96,2.98,3.02,3.04,3.06,3.08,3.12,3.14,3.16,3.18], "offset": -9, "tickSize": 9, "labels": false, "domain": false}},
           "y": {"datum": 14.4, "axis": {"orient": "right", "values": [0,5,10,15,20], "offset": -17, "tickSize": 17, "labels": false, "domain": false}},
           "text": {"field": "sub"}}},
        {"data": {"name": "series"}, "transform": [{"filter": "datum.system === 'Face'"}],
         "mark": {"type": "text", "align": "left", "baseline": "alphabetic", "fontSize": 30, "dx": 61.7, "dy": 9},
         "encoding": {
           "x": {"datum": 2.957, "axis": {"orient": "top", "ticks": false, "labels": false, "domain": true}},
           "y": {"datum": 14.4, "axis": {"orient": "right", "values": [2.5,7.5,12.5,17.5,22.5], "offset": -9, "tickSize": 9, "labels": false, "domain": false}},
           "text": {"field": "rest"}}},
        {"data": {"name": "series"}, "transform": [{"filter": "datum.system === 'Face'"}],
         "mark": {"type": "text", "opacity": 0},
         "encoding": {
           "x": {"datum": 2.957, "axis": null},
           "y": {"datum": 14.4, "axis": {"orient": "right", "ticks": false, "labels": false, "domain": true}},
           "text": {"field": "rest"}}}
      ],
      "resolve": {"axis": {"x": "independent", "y": "independent"}}
    },
    {
      "width": 864, "height": 173.5,
      "layer": [
        {"data": {"name": "hist"}, "transform": [{"filter": "datum.support === 'SiO2' && datum.system === 'Face'"}],
         "mark": {"type": "bar", "color": "#0000ff", "stroke": "#0000ff", "strokeWidth": 0.4},
         "encoding": {
           "x": {"field": "lo", "type": "quantitative", "scale": {"domain": [2.5, 3.2], "nice": false, "zero": false}, "axis": {"orient": "bottom", "ticks": false, "labels": false, "domain": true}},
           "x2": {"field": "hi"},
           "y": {"field": "count", "type": "quantitative", "scale": {"domain": [0, 24], "nice": false}, "axis": {"orient": "left", "values": [0,5,10,15,20], "ticks": false, "labelPadding": 7, "domain": true}},
           "y2": {"datum": 0}}},
        {"data": {"name": "means"}, "transform": [{"filter": "datum.support === 'SiO2'"}],
         "mark": "rule",
         "encoding": {
           "x": {"field": "mean", "type": "quantitative", "axis": {"orient": "bottom", "values": [2.5,2.6,2.7,2.8,2.9,3.0,3.1,3.2], "offset": -17, "tickSize": 17, "labels": false, "domain": false}},
           "color": {"field": "system", "type": "nominal", "scale": {"domain": ["Pt37","Edge","Face","Top"], "range": ["#000000","#ff0000","#0000ff","#008c00"]}, "legend": null},
           "strokeWidth": {"field": "system", "type": "ordinal", "scale": {"domain": ["Pt37","Edge","Face","Top"], "range": [2.5,3,3,2]}, "legend": null}}},
        {"data": {"name": "series"}, "transform": [{"filter": "datum.system === 'Face'"}],
         "mark": {"type": "rule", "strokeWidth": 3.5},
         "encoding": {
           "x": {"datum": 2.915, "axis": {"orient": "bottom", "values": [2.52,2.54,2.56,2.58,2.62,2.64,2.66,2.68,2.72,2.74,2.76,2.78,2.82,2.84,2.86,2.88,2.92,2.94,2.96,2.98,3.02,3.04,3.06,3.08,3.12,3.14,3.16,3.18], "offset": -9, "tickSize": 9, "labels": false, "domain": false}},
           "x2": {"datum": 2.943},
           "y": {"datum": 14.4, "axis": {"orient": "left", "values": [0,5,10,15,20], "offset": -17, "tickSize": 17, "labels": false, "domain": false}},
           "color": {"field": "system", "type": "nominal", "scale": {"domain": ["Pt37","Edge","Face","Top"], "range": ["#000000","#ff0000","#0000ff","#008c00"]}, "legend": null}}},
        {"data": {"name": "series"}, "transform": [{"filter": "datum.system === 'Face'"}],
         "mark": {"type": "text", "align": "left", "baseline": "alphabetic", "fontSize": 30, "dy": 9},
         "encoding": {
           "x": {"datum": 2.957, "axis": {"orient": "top", "values": [2.5,2.6,2.7,2.8,2.9,3.0,3.1,3.2], "offset": -17, "tickSize": 17, "labels": false, "domain": false}},
           "y": {"datum": 14.4, "axis": {"orient": "left", "values": [2.5,7.5,12.5,17.5,22.5], "offset": -9, "tickSize": 9, "labels": false, "domain": false}},
           "text": {"field": "base"}}},
        {"data": {"name": "series"}, "transform": [{"filter": "datum.system === 'Face'"}],
         "mark": {"type": "text", "align": "left", "baseline": "alphabetic", "fontSize": 21, "dx": 30.5, "dy": 17},
         "encoding": {
           "x": {"datum": 2.957, "axis": {"orient": "top", "values": [2.52,2.54,2.56,2.58,2.62,2.64,2.66,2.68,2.72,2.74,2.76,2.78,2.82,2.84,2.86,2.88,2.92,2.94,2.96,2.98,3.02,3.04,3.06,3.08,3.12,3.14,3.16,3.18], "offset": -9, "tickSize": 9, "labels": false, "domain": false}},
           "y": {"datum": 14.4, "axis": {"orient": "right", "values": [0,5,10,15,20], "offset": -17, "tickSize": 17, "labels": false, "domain": false}},
           "text": {"field": "sub"}}},
        {"data": {"name": "series"}, "transform": [{"filter": "datum.system === 'Face'"}],
         "mark": {"type": "text", "align": "left", "baseline": "alphabetic", "fontSize": 30, "dx": 61.7, "dy": 9},
         "encoding": {
           "x": {"datum": 2.957, "axis": {"orient": "top", "ticks": false, "labels": false, "domain": true}},
           "y": {"datum": 14.4, "axis": {"orient": "right", "values": [2.5,7.5,12.5,17.5,22.5], "offset": -9, "tickSize": 9, "labels": false, "domain": false}},
           "text": {"field": "rest"}}},
        {"data": {"name": "series"}, "transform": [{"filter": "datum.system === 'Face'"}],
         "mark": {"type": "text", "opacity": 0},
         "encoding": {
           "x": {"datum": 2.957, "axis": null},
           "y": {"datum": 14.4, "axis": {"orient": "right", "ticks": false, "labels": false, "domain": true}},
           "text": {"field": "rest"}}}
      ],
      "resolve": {"axis": {"x": "independent", "y": "independent"}}
    },
    {
      "width": 864, "height": 173.5,
      "layer": [
        {"data": {"name": "hist"}, "transform": [{"filter": "datum.support === 'Graphite' && datum.system === 'Top'"}],
         "mark": {"type": "bar", "color": "#008c00", "stroke": "#008c00", "strokeWidth": 0.4},
         "encoding": {
           "x": {"field": "lo", "type": "quantitative", "scale": {"domain": [2.5, 3.2], "nice": false, "zero": false}, "axis": {"orient": "bottom", "values": [2.5,2.6,2.7,2.8,2.9,3.0,3.1,3.2], "format": ".1f", "ticks": false, "labels": true, "labelPadding": 14, "domain": true}},
           "x2": {"field": "hi"},
           "y": {"field": "count", "type": "quantitative", "scale": {"domain": [0, 24], "nice": false}, "axis": {"orient": "left", "values": [0,5,10,15,20], "ticks": false, "labelPadding": 7, "domain": true}},
           "y2": {"datum": 0}}},
        {"data": {"name": "means"}, "transform": [{"filter": "datum.support === 'Graphite'"}],
         "mark": "rule",
         "encoding": {
           "x": {"field": "mean", "type": "quantitative", "axis": {"orient": "bottom", "values": [2.5,2.6,2.7,2.8,2.9,3.0,3.1,3.2], "offset": -17, "tickSize": 17, "labels": false, "domain": false}},
           "color": {"field": "system", "type": "nominal", "scale": {"domain": ["Pt37","Edge","Face","Top"], "range": ["#000000","#ff0000","#0000ff","#008c00"]}, "legend": null},
           "strokeWidth": {"field": "system", "type": "ordinal", "scale": {"domain": ["Pt37","Edge","Face","Top"], "range": [2.5,3,3,2]}, "legend": null}}},
        {"data": {"name": "series"}, "transform": [{"filter": "datum.system === 'Top'"}],
         "mark": {"type": "rule", "strokeWidth": 3.5},
         "encoding": {
           "x": {"datum": 2.915, "axis": {"orient": "bottom", "values": [2.52,2.54,2.56,2.58,2.62,2.64,2.66,2.68,2.72,2.74,2.76,2.78,2.82,2.84,2.86,2.88,2.92,2.94,2.96,2.98,3.02,3.04,3.06,3.08,3.12,3.14,3.16,3.18], "offset": -9, "tickSize": 9, "labels": false, "domain": false}},
           "x2": {"datum": 2.943},
           "y": {"datum": 14.4, "axis": {"orient": "left", "values": [0,5,10,15,20], "offset": -17, "tickSize": 17, "labels": false, "domain": false}},
           "color": {"field": "system", "type": "nominal", "scale": {"domain": ["Pt37","Edge","Face","Top"], "range": ["#000000","#ff0000","#0000ff","#008c00"]}, "legend": null}}},
        {"data": {"name": "series"}, "transform": [{"filter": "datum.system === 'Top'"}],
         "mark": {"type": "text", "align": "left", "baseline": "alphabetic", "fontSize": 30, "dy": 9},
         "encoding": {
           "x": {"datum": 2.957, "axis": {"orient": "top", "values": [2.5,2.6,2.7,2.8,2.9,3.0,3.1,3.2], "offset": -17, "tickSize": 17, "labels": false, "domain": false}},
           "y": {"datum": 14.4, "axis": {"orient": "left", "values": [2.5,7.5,12.5,17.5,22.5], "offset": -9, "tickSize": 9, "labels": false, "domain": false}},
           "text": {"field": "base"}}},
        {"data": {"name": "series"}, "transform": [{"filter": "datum.system === 'Top'"}],
         "mark": {"type": "text", "align": "left", "baseline": "alphabetic", "fontSize": 21, "dx": 30.5, "dy": 17},
         "encoding": {
           "x": {"datum": 2.957, "axis": {"orient": "top", "values": [2.52,2.54,2.56,2.58,2.62,2.64,2.66,2.68,2.72,2.74,2.76,2.78,2.82,2.84,2.86,2.88,2.92,2.94,2.96,2.98,3.02,3.04,3.06,3.08,3.12,3.14,3.16,3.18], "offset": -9, "tickSize": 9, "labels": false, "domain": false}},
           "y": {"datum": 14.4, "axis": {"orient": "right", "values": [0,5,10,15,20], "offset": -17, "tickSize": 17, "labels": false, "domain": false}},
           "text": {"field": "sub"}}},
        {"data": {"name": "series"}, "transform": [{"filter": "datum.system === 'Top'"}],
         "mark": {"type": "text", "align": "left", "baseline": "alphabetic", "fontSize": 30, "dx": 61.7, "dy": 9},
         "encoding": {
           "x": {"datum": 2.957, "axis": {"orient": "top", "ticks": false, "labels": false, "domain": true}},
           "y": {"datum": 14.4, "axis": {"orient": "right", "values": [2.5,7.5,12.5,17.5,22.5], "offset": -9, "tickSize": 9, "labels": false, "domain": false}},
           "text": {"field": "rest"}}},
        {"data": {"name": "series"}, "transform": [{"filter": "datum.system === 'Top'"}],
         "mark": {"type": "text", "opacity": 0},
         "encoding": {
           "x": {"datum": 2.957, "axis": null},
           "y": {"datum": 14.4, "axis": {"orient": "right", "ticks": false, "labels": false, "domain": true}},
           "text": {"field": "rest"}}}
      ],
      "resolve": {"axis": {"x": "independent", "y": "independent"}}
    },
    {
      "width": 864, "height": 173.5,
      "layer": [
        {"data": {"name": "hist"}, "transform": [{"filter": "datum.support === 'SiO2' && datum.system === 'Top'"}],
         "mark": {"type": "bar", "color": "#008c00", "stroke": "#008c00", "strokeWidth": 0.4},
         "encoding": {
           "x": {"field": "lo", "type": "quantitative", "scale": {"domain": [2.5, 3.2], "nice": false, "zero": false}, "axis": {"orient": "bottom", "values": [2.5,2.6,2.7,2.8,2.9,3.0,3.1,3.2], "format": ".1f", "ticks": false, "labels": true, "labelPadding": 14, "domain": true}},
           "x2": {"field": "hi"},
           "y": {"field": "count", "type": "quantitative", "scale": {"domain": [0, 24], "nice": false}, "axis": {"orient": "left", "values": [0,5,10,15,20], "ticks": false, "labelPadding": 7, "domain": true}},
           "y2": {"datum": 0}}},
        {"data": {"name": "means"}, "transform": [{"filter": "datum.support === 'SiO2'"}],
         "mark": "rule",
         "encoding": {
           "x": {"field": "mean", "type": "quantitative", "axis": {"orient": "bottom", "values": [2.5,2.6,2.7,2.8,2.9,3.0,3.1,3.2], "offset": -17, "tickSize": 17, "labels": false, "domain": false}},
           "color": {"field": "system", "type": "nominal", "scale": {"domain": ["Pt37","Edge","Face","Top"], "range": ["#000000","#ff0000","#0000ff","#008c00"]}, "legend": null},
           "strokeWidth": {"field": "system", "type": "ordinal", "scale": {"domain": ["Pt37","Edge","Face","Top"], "range": [2.5,3,3,2]}, "legend": null}}},
        {"data": {"name": "series"}, "transform": [{"filter": "datum.system === 'Top'"}],
         "mark": {"type": "rule", "strokeWidth": 3.5},
         "encoding": {
           "x": {"datum": 2.915, "axis": {"orient": "bottom", "values": [2.52,2.54,2.56,2.58,2.62,2.64,2.66,2.68,2.72,2.74,2.76,2.78,2.82,2.84,2.86,2.88,2.92,2.94,2.96,2.98,3.02,3.04,3.06,3.08,3.12,3.14,3.16,3.18], "offset": -9, "tickSize": 9, "labels": false, "domain": false}},
           "x2": {"datum": 2.943},
           "y": {"datum": 14.4, "axis": {"orient": "left", "values": [0,5,10,15,20], "offset": -17, "tickSize": 17, "labels": false, "domain": false}},
           "color": {"field": "system", "type": "nominal", "scale": {"domain": ["Pt37","Edge","Face","Top"], "range": ["#000000","#ff0000","#0000ff","#008c00"]}, "legend": null}}},
        {"data": {"name": "series"}, "transform": [{"filter": "datum.system === 'Top'"}],
         "mark": {"type": "text", "align": "left", "baseline": "alphabetic", "fontSize": 30, "dy": 9},
         "encoding": {
           "x": {"datum": 2.957, "axis": {"orient": "top", "values": [2.5,2.6,2.7,2.8,2.9,3.0,3.1,3.2], "offset": -17, "tickSize": 17, "labels": false, "domain": false}},
           "y": {"datum": 14.4, "axis": {"orient": "left", "values": [2.5,7.5,12.5,17.5,22.5], "offset": -9, "tickSize": 9, "labels": false, "domain": false}},
           "text": {"field": "base"}}},
        {"data": {"name": "series"}, "transform": [{"filter": "datum.system === 'Top'"}],
         "mark": {"type": "text", "align": "left", "baseline": "alphabetic", "fontSize": 21, "dx": 30.5, "dy": 17},
         "encoding": {
           "x": {"datum": 2.957, "axis": {"orient": "top", "values": [2.52,2.54,2.56,2.58,2.62,2.64,2.66,2.68,2.72,2.74,2.76,2.78,2.82,2.84,2.86,2.88,2.92,2.94,2.96,2.98,3.02,3.04,3.06,3.08,3.12,3.14,3.16,3.18], "offset": -9, "tickSize": 9, "labels": false, "domain": false}},
           "y": {"datum": 14.4, "axis": {"orient": "right", "values": [0,5,10,15,20], "offset": -17, "tickSize": 17, "labels": false, "domain": false}},
           "text": {"field": "sub"}}},
        {"data": {"name": "series"}, "transform": [{"filter": "datum.system === 'Top'"}],
         "mark": {"type": "text", "align": "left", "baseline": "alphabetic", "fontSize": 30, "dx": 61.7, "dy": 9},
         "encoding": {
           "x": {"datum": 2.957, "axis": {"orient": "top", "ticks": false, "labels": false, "domain": true}},
           "y": {"datum": 14.4, "axis": {"orient": "right", "values": [2.5,7.5,12.5,17.5,22.5], "offset": -9, "tickSize": 9, "labels": false, "domain": false}},
           "text": {"field": "rest"}}},
        {"data": {"name": "series"}, "transform": [{"filter": "datum.system === 'Top'"}],
         "mark": {"type": "text", "opacity": 0},
         "encoding": {
           "x": {"datum": 2.957, "axis": null},
           "y": {"datum": 14.4, "axis": {"orient": "right", "ticks": false, "labels": false, "domain": true}},
           "text": {"field": "rest"}}}
      ],
      "resolve": {"axis": {"x": "independent", "y": "independent"}}
    },
    {
      "width": 864, "height": 105,
      "layer": [
        {"data": {"name": "shift"}, "transform": [{"filter": "datum.support === 'Graphite'"}],
         "mark": {"type": "area", "orient": "vertical", "color": "#d95db1", "opacity": 1},
         "encoding": {
           "x": {"field": "r", "type": "quantitative", "scale": {"domain": [2.5, 3.2], "nice": false, "zero": false}, "axis": null},
           "y": {"field": "lo", "type": "quantitative", "scale": {"domain": [-1, 2.9], "nice": false, "zero": false}, "axis": null},
           "y2": {"field": "hi"},
           "detail": {"field": "part", "type": "nominal"}}},
        {"data": {"name": "xtitle"},
         "mark": {"type": "text", "align": "left", "baseline": "alphabetic", "fontSize": 30, "dx": -56.8, "dy": -2},
         "encoding": {"x": {"datum": 2.85}, "y": {"datum": 0}, "text": {"field": "base"}}},
        {"data": {"name": "xtitle"},
         "mark": {"type": "text", "align": "left", "baseline": "alphabetic", "fontSize": 21, "dx": -35.1, "dy": 6},
         "encoding": {"x": {"datum": 2.85}, "y": {"datum": 0}, "text": {"field": "sub"}}},
        {"data": {"name": "xtitle"},
         "mark": {"type": "text", "align": "left", "baseline": "alphabetic", "fontSize": 30, "dx": 15.2, "dy": -2},
         "encoding": {"x": {"datum": 2.85}, "y": {"datum": 0}, "text": {"field": "unit"}}}
      ]
    },
    {
      "width": 864, "height": 105,
      "layer": [
        {"data": {"name": "shift"}, "transform": [{"filter": "datum.support === 'SiO2'"}],
         "mark": {"type": "area", "orient": "vertical", "color": "#d95db1", "opacity": 1},
         "encoding": {
           "x": {"field": "r", "type": "quantitative", "scale": {"domain": [2.5, 3.2], "nice": false, "zero": false}, "axis": null},
           "y": {"field": "lo", "type": "quantitative", "scale": {"domain": [-1, 2.9], "nice": false, "zero": false}, "axis": null},
           "y2": {"field": "hi"},
           "detail": {"field": "part", "type": "nominal"}}},
        {"data": {"name": "xtitle"},
         "mark": {"type": "text", "align": "left", "baseline": "alphabetic", "fontSize": 30, "dx": -56.8, "dy": -2},
         "encoding": {"x": {"datum": 2.85}, "y": {"datum": 0}, "text": {"field": "base"}}},
        {"data": {"name": "xtitle"},
         "mark": {"type": "text", "align": "left", "baseline": "alphabetic", "fontSize": 21, "dx": -35.1, "dy": 6},
         "encoding": {"x": {"datum": 2.85}, "y": {"datum": 0}, "text": {"field": "sub"}}},
        {"data": {"name": "xtitle"},
         "mark": {"type": "text", "align": "left", "baseline": "alphabetic", "fontSize": 30, "dx": 15.2, "dy": -2},
         "encoding": {"x": {"datum": 2.85}, "y": {"datum": 0}, "text": {"field": "unit"}}}
      ]
    }
  ]
}
